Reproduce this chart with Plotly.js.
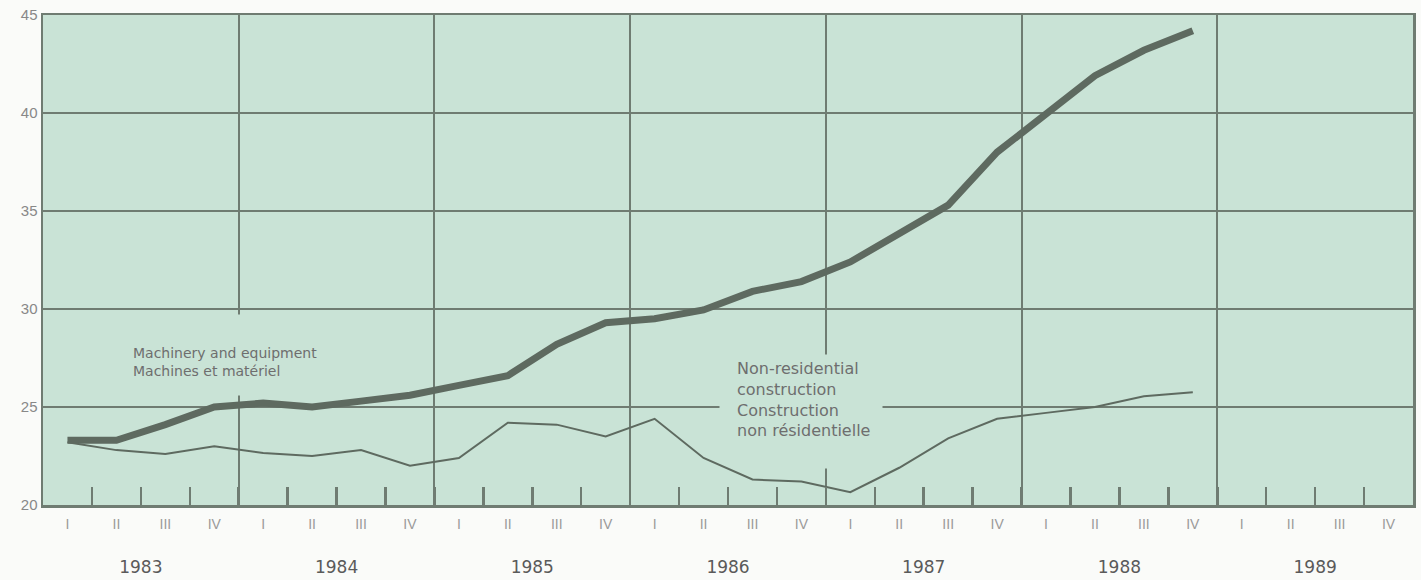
<!DOCTYPE html>
<html>
<head>
<meta charset="utf-8">
<script src="https://cdn.plot.ly/plotly-3.0.1.min.js"></script>
<style>html,body{margin:0;padding:0;background:#fafbf9;}#chart{width:1421px;height:580px;}</style>
</head>
<body>
<div id="chart"></div>
<script>
const years = ['1983','1984','1985','1986','1987','1988','1989'];
const quarters = ['I','II','III','IV'];
const machinery = [23.3,23.3,24.1,25.0, 25.2,25.0,25.3,25.6, 26.1,26.6,28.2,29.3, 29.5,29.95,30.9,31.4, 32.4,33.8,35.3,38.0, 39.9,41.9,43.2,44.2];
const nonres = [23.2,22.8,22.6,23.0, 22.65,22.5,22.8,22.0, 22.4,24.2,24.1,23.5, 24.4,22.4,21.3,21.2, 20.65,21.9,23.4,24.4, 24.7,25.0,25.55,25.75];
const yTicks = [20,25,30,35,40,45];

const nQ = years.length * quarters.length;
const qCenters = [], qText = [];
years.forEach((y,i)=>quarters.forEach((q,j)=>{qCenters.push(4*i+j); qText.push(q);}));
const qBounds = [];
for (let k=0;k<nQ-1;k++) qBounds.push(k+0.5);
const yearBounds = years.slice(1).map((y,i)=>4*(i+1)-0.5);
const yearCenters = years.map((y,i)=>4*i+1.5);
const xr = [-0.5, nQ-0.5];
const lineCol = '#5e6a60';
const gridCol = '#6f7c72';
const bg = '#c9e3d6';
const labelFont = 'DejaVu Sans, Liberation Sans, sans-serif';

const traces = [
  {x: machinery.map((v,i)=>i), y: machinery, type:'scatter', mode:'lines',
   line:{color:lineCol, width:7}, hoverinfo:'skip'},
  {x: nonres.map((v,i)=>i), y: nonres, type:'scatter', mode:'lines',
   line:{color:lineCol, width:2}, hoverinfo:'skip'},
  {x: qCenters, y: qCenters.map(()=>null), xaxis:'x2', type:'scatter', mode:'lines', hoverinfo:'skip'},
  {x: yearCenters, y: yearCenters.map(()=>null), xaxis:'x3', type:'scatter', mode:'lines', hoverinfo:'skip'}
];

function blank(x, y, w, h){
  return {x:x, y:y, xref:'x', yref:'y', showarrow:false, xanchor:'center', yanchor:'middle',
    width:w, height:h, bgcolor:bg, borderpad:0, text:' ', font:{size:4, color:bg}};
}

const layout = {
  width:1421, height:580,
  margin:{l:43, r:8, t:15, b:75},
  paper_bgcolor:'#fafbf9', plot_bgcolor:bg,
  showlegend:false,
  font:{family:'Liberation Sans, Arial, sans-serif', color:'#666'},
  xaxis:{range:xr, tickmode:'array', tickvals:yearBounds, showticklabels:false, ticks:'',
    showgrid:true, gridcolor:gridCol, gridwidth:2, zeroline:false,
    showline:true, mirror:true, linecolor:gridCol, linewidth:2.5,
    minor:{tickmode:'array', tickvals:qBounds, ticks:'inside', ticklen:18, tickwidth:2.5, tickcolor:gridCol, showgrid:false}},
  xaxis2:{range:xr, overlaying:'x', anchor:'y', side:'bottom', tickmode:'array', tickvals:qCenters, ticktext:qText,
    ticks:'outside', ticklen:6, tickcolor:'rgba(0,0,0,0)', showgrid:false, zeroline:false, showline:false,
    tickfont:{size:14, color:'#9a9a9a'}},
  xaxis3:{range:xr, overlaying:'x', anchor:'y', side:'bottom', tickmode:'array', tickvals:yearCenters, ticktext:years,
    ticks:'outside', ticklen:47, tickcolor:'rgba(0,0,0,0)', showgrid:false, zeroline:false, showline:false,
    tickfont:{family:labelFont, size:17, color:'#5a5a5a'}},
  yaxis:{range:[20,45], tickmode:'array', tickvals:yTicks, ticks:'', showgrid:true, gridcolor:gridCol, gridwidth:2,
    zeroline:false, showline:true, mirror:true, linecolor:gridCol, linewidth:2.5,
    tickfont:{size:15, color:'#888'}},
  annotations:[
    blank(3.12, 27.65, 210, 80),
    blank(15.0, 25.1, 162, 100),
    blank(15.5, 22.27, 16, 15),
    {x:1.30, y:27.32, xref:'x', yref:'y', showarrow:false, xanchor:'left', yanchor:'middle', align:'left',
     text:'Machinery and equipment<br>Machines et matériel', font:{family:labelFont, size:14, color:'#6e6e6e'}},
    {x:13.65, y:25.36, xref:'x', yref:'y', showarrow:false, xanchor:'left', yanchor:'middle', align:'left',
     text:'Non-residential<br>construction<br>Construction<br>non résidentielle', font:{family:labelFont, size:16, color:'#6e6e6e'}}
  ]
};
Plotly.newPlot('chart', traces, layout, {staticPlot:true});
</script>
</body>
</html>
